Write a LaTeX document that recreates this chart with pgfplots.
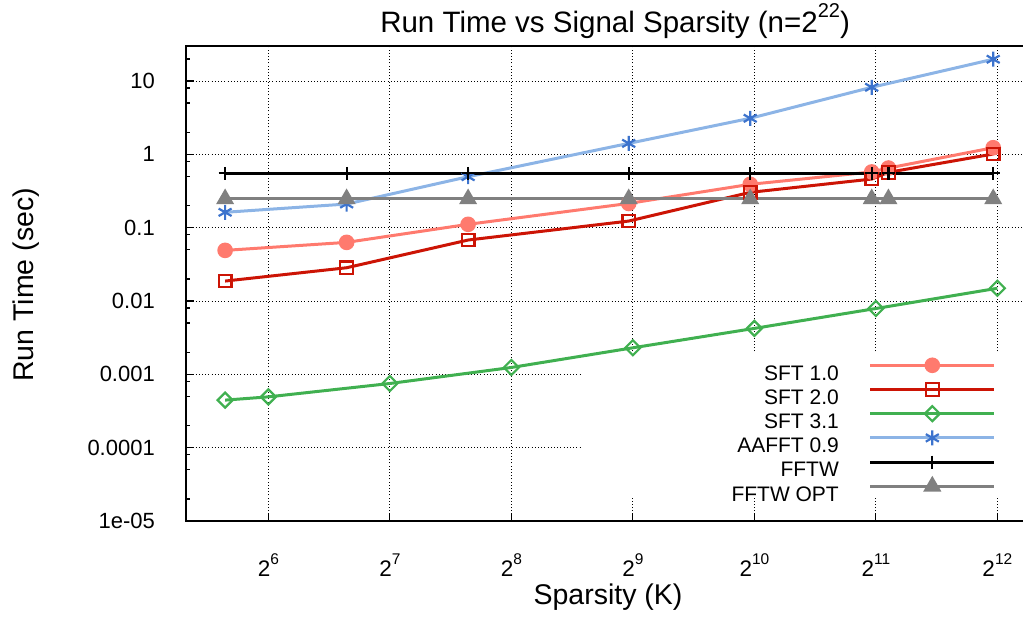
\documentclass[border=0pt]{standalone}
\usepackage{fontspec}
\setmainfont{Liberation Sans}
\usepackage{pgfplots}
\pgfplotsset{compat=1.18}
\definecolor{sftone}{RGB}{255,122,110}
\definecolor{sfttwo}{RGB}{204,20,5}
\definecolor{sftthree}{RGB}{64,176,80}
\definecolor{aafft}{RGB}{140,180,230}
\definecolor{aafftmark}{RGB}{60,115,205}
\definecolor{fftwopt}{RGB}{128,128,128}
\newcommand{\xt}[1]{2\raisebox{0.5em}{\fontsize{15.5}{15.5}\selectfont #1}}
\newcommand{\legtxt}[1]{\raisebox{-11pt}{#1}}
\begin{document}
\begin{tikzpicture}
\useasboundingbox (-186pt,-96pt) rectangle (837pt,521pt);
\begin{axis}[
  at={(0pt,0pt)}, anchor=south west,
  scale only axis, width=838pt, height=475pt,
  xmode=log, log basis x=2, xmin=40, xmax=4768,
  ymode=log, ymin=1e-5, ymax=30,
  axis line style={line width=2pt},
  xtick={64,128,256,512,1024,2048,4096},
  xticklabels={\xt{6},\xt{7},\xt{8},\xt{9},\xt{10},\xt{11},\xt{12}},
  ytick={1e-5,1e-4,1e-3,1e-2,1e-1,1,10},
  yticklabels={1e-05,0.0001,0.001,0.01,0.1,1,10},
  minor ytick={2e-5,5e-5,8e-5,2e-4,5e-4,8e-4,2e-3,5e-3,8e-3,2e-2,5e-2,8e-2,0.2,0.5,0.8,2,5,8,20},
  xtick pos=bottom, ytick pos=left,
  tick align=inside,
  major tick length=8pt, minor tick length=4pt,
  every tick/.style={black, line width=1.2pt},
  xmajorgrids, ymajorgrids,
  grid style={black, line width=0.9pt, dash pattern=on 1pt off 2.2pt},
  xticklabel style={font=\fontsize{22.5}{24}\selectfont, anchor=base, inner sep=0pt, yshift=-55pt},
  yticklabel style={font=\fontsize{22}{24}\selectfont, anchor=east, inner sep=0pt, xshift=-31pt},
  title={Run Time vs Signal Sparsity (n=2\raisebox{0.5em}{\fontsize{20}{20}\selectfont 22})},
  title style={font=\fontsize{29.5}{30}\selectfont, at={(axis description cs:0.512,1.0168)}, anchor=base, inner sep=0pt},
  xlabel={Sparsity (K)},
  xlabel style={font=\fontsize{28.5}{30}\selectfont, at={(axis description cs:0.5036,-0.1768)}, anchor=base, inner sep=0pt},
  ylabel={Run Time (sec)},
  ylabel style={font=\fontsize{28.5}{30}\selectfont, at={(axis description cs:-0.191,0.497)}, anchor=center, inner sep=0pt},
  legend plot pos=right,
  legend cell align=right,
  legend image code/.code={\draw[mark repeat=2,mark phase=2] plot coordinates {(0pt,0pt) (62pt,0pt) (124pt,0pt)};},
  legend style={at={(rel axis cs:0.9666,0.3537)}, anchor=north east, draw=none, fill=none,
    font=\fontsize{21}{24}\selectfont, inner sep=0pt, row sep=0pt, column sep=30pt,
    nodes={inner sep=0pt, text height=16pt, text depth=8.2pt}},
  every axis plot/.append style={line width=3pt},
]
\fill[white] (rel axis cs:0.4726,0.0484) rectangle (rel axis cs:0.998,0.3537);
\addplot[color=sftone, mark=*, mark size=6.3pt, mark options={solid, fill=sftone}] coordinates {
(50,0.049) (100,0.063) (200,0.111) (500,0.214) (1000,0.39) (2000,0.575) (2200,0.65) (4000,1.23)};
\addlegendentry{\legtxt{SFT 1.0}}
\addplot[color=sfttwo, mark=square, mark size=6.3pt, mark options={solid, line width=2.2pt, fill=none}] coordinates {
(50,0.0187) (100,0.0284) (200,0.0678) (500,0.123) (1000,0.303) (2000,0.46) (2200,0.568) (4000,1.01)};
\addlegendentry{\legtxt{SFT 2.0}}
\addplot[color=sftthree, mark=square, mark size=5.3pt, mark options={solid, rotate=45, line width=2.2pt, fill=none}] coordinates {
(50,4.45e-4) (64,4.93e-4) (128,7.5e-4) (256,1.24e-3) (512,2.3e-3) (1024,4.23e-3) (2048,7.9e-3) (4096,0.0149)};
\addlegendentry{\legtxt{SFT 3.1}}
\addplot[color=aafft, mark=asterisk, mark size=7.5pt, mark options={solid, line width=2.2pt, draw=aafftmark}] coordinates {
(50,0.162) (100,0.21) (200,0.495) (500,1.41) (1000,3.1) (2000,8.2) (4000,19.8)};
\addlegendentry{\legtxt{AAFFT 0.9}}
\addplot[color=black, mark=+, mark size=6.5pt, mark options={solid, line width=2.2pt}] coordinates {
(50,0.55) (100,0.55) (200,0.55) (500,0.55) (1000,0.55) (2000,0.55) (2200,0.55) (4000,0.55)};
\addlegendentry{\legtxt{FFTW}}
\addplot[color=fftwopt, mark=triangle*, mark size=7.5pt, mark options={solid, fill=fftwopt}] coordinates {
(50,0.246) (100,0.246) (200,0.246) (500,0.246) (1000,0.246) (2000,0.246) (2200,0.246) (4000,0.246)};
\addlegendentry{\legtxt{FFTW OPT}}
\end{axis}
\end{tikzpicture}
\end{document}
